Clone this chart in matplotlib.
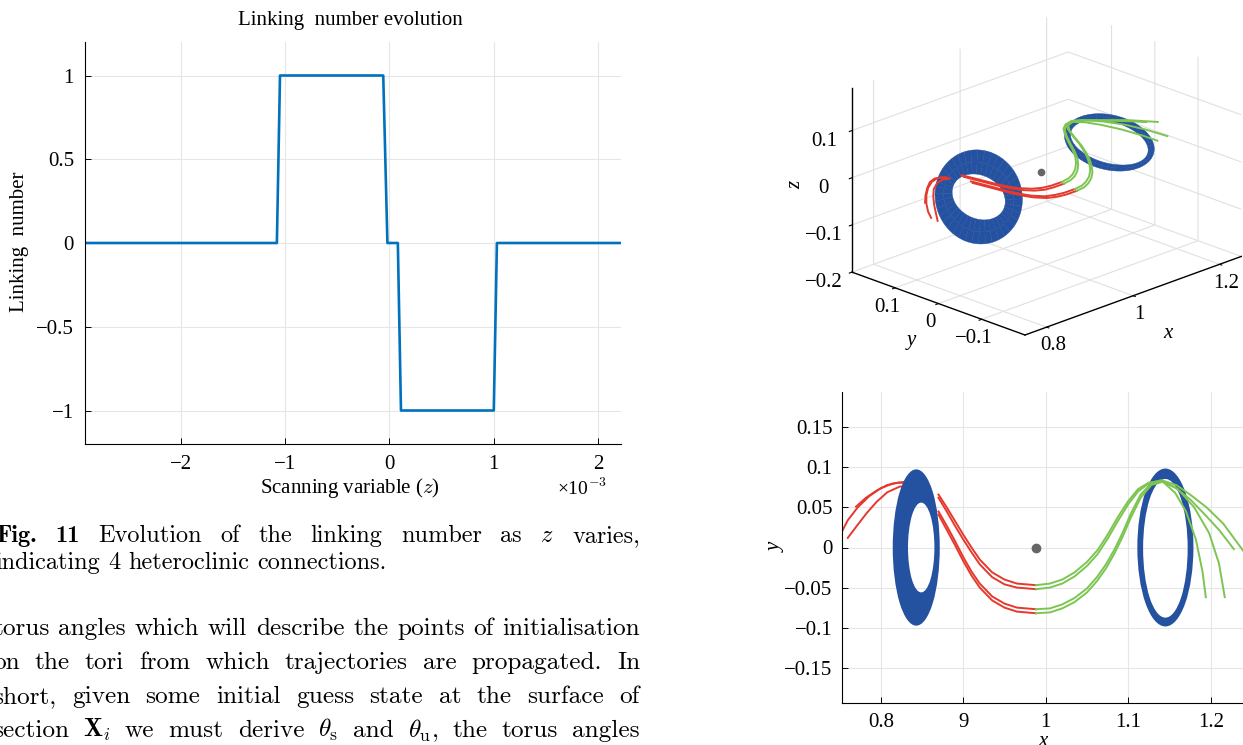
import numpy as np
import matplotlib
matplotlib.use("Agg")
import matplotlib.pyplot as plt
from matplotlib.path import Path
from matplotlib.patches import PathPatch
from matplotlib.transforms import Affine2D
from mpl_toolkits.mplot3d import proj3d

W, H = 1243, 745
plt.rcParams['font.family'] = ['Liberation Serif', 'DejaVu Serif']
plt.rcParams['mathtext.fontset'] = 'cm'

LINE_BLUE = '#0072BD'
TORUS = '#2451A0'
RED = '#E5392E'
GREEN = '#7CC551'
GRID = '#e6e6e6'

# ---- linking number vs scanning variable
scan_z = [-2.92e-3, -1.08e-3, -1.05e-3, -0.06e-3, -0.02e-3, 0.08e-3, 0.11e-3, 1.00e-3, 1.03e-3, 2.22e-3]
link_num = [0, 0, 1, 1, 0, 0, -1, -1, 0, 0]
scan_ticks = [-2e-3, -1e-3, 0, 1e-3, 2e-3]
scan_labels = ['−2', '−1', '0', '1', '2']
link_ticks = [-1, -0.5, 0, 0.5, 1]
link_labels = ['−1', '−0.5', '0', '0.5', '1']

# ---- tori (x-y view): outer ellipse and hole
ring_cx = [0.843, 1.145]
ring_cy = [0.0, 0.0]
ring_w = [0.057, 0.068]
ring_h = [0.195, 0.197]
hole_cx = [0.849, 1.145]
hole_cy = [0.0, -0.001]
hole_w = [0.032, 0.054]
hole_h = [0.112, 0.173]

# tori in 3d: centre z, semi axes (y, z) outer / inner, tilt dx/dz
ring_cz = [-0.005, 0.01]
ring_ay = [0.097, 0.098]
ring_az = [0.085, 0.040]
hole_ay = [0.060, 0.086]
hole_az = [0.040, 0.030]
ring_tilt = [0.33, 0.85]

moon = (0.9878, 0.0, 0.0)

# ---- unstable branches (red), left torus -> moon
red_x = [0.870, 0.880, 0.890, 0.900, 0.910, 0.920, 0.935, 0.950, 0.965, 0.988]
red_y1 = [0.066, 0.050, 0.033, 0.016, 0.000, -0.015, -0.031, -0.040, -0.045, -0.047]
red_y2 = [0.062, 0.045, 0.027, 0.010, -0.006, -0.021, -0.037, -0.046, -0.050, -0.052]
red_y3 = [0.045, 0.027, 0.008, -0.012, -0.030, -0.045, -0.061, -0.070, -0.075, -0.077]
red_y4 = [0.041, 0.022, 0.003, -0.017, -0.035, -0.050, -0.066, -0.075, -0.080, -0.082]
red_z1 = [0.010, 0.006, 0.002, -0.002, -0.005, -0.007, -0.008, -0.008, -0.007, -0.006]
red_z2 = [0.008, 0.004, 0.000, -0.004, -0.007, -0.009, -0.010, -0.010, -0.009, -0.008]
red_z3 = [0.004, 0.000, -0.004, -0.008, -0.011, -0.013, -0.014, -0.013, -0.012, -0.011]
red_z4 = [0.002, -0.002, -0.006, -0.010, -0.013, -0.015, -0.016, -0.015, -0.014, -0.013]

# red tails on the far side of the left torus
tail_x1 = [0.845, 0.830, 0.815, 0.800, 0.786, 0.772, 0.760, 0.753]
tail_y1 = [0.079, 0.082, 0.080, 0.074, 0.064, 0.050, 0.034, 0.020]
tail_z1 = [0.010, 0.012, 0.010, 0.004, -0.004, -0.012, -0.020, -0.026]
tail_x2 = [0.852, 0.838, 0.823, 0.808, 0.795, 0.783, 0.771, 0.760]
tail_y2 = [0.075, 0.077, 0.076, 0.069, 0.057, 0.043, 0.027, 0.012]
tail_z2 = [0.006, 0.008, 0.006, 0.000, -0.008, -0.016, -0.024, -0.032]
tail_x3 = [0.848, 0.835, 0.822, 0.808, 0.795, 0.782, 0.770]
tail_y3 = [0.077, 0.080, 0.081, 0.078, 0.071, 0.062, 0.051]
tail_z3 = [0.008, 0.012, 0.014, 0.012, 0.006, -0.002, -0.010]

# ---- stable branches (green), moon -> right torus
grn_x1 = [0.988, 1.005, 1.020, 1.035, 1.050, 1.063, 1.075, 1.088, 1.100, 1.112, 1.125, 1.140, 1.158, 1.175, 1.192, 1.210, 1.228]
grn_y1 = [-0.047, -0.045, -0.040, -0.031, -0.018, -0.003, 0.016, 0.039, 0.058, 0.073, 0.081, 0.083, 0.074, 0.060, 0.042, 0.022, -0.002]
grn_z1 = [-0.006, -0.005, -0.003, 0.000, 0.004, 0.009, 0.014, 0.019, 0.023, 0.026, 0.028, 0.029, 0.028, 0.027, 0.026, 0.026, 0.026]
grn_x2 = [0.988, 1.005, 1.020, 1.035, 1.050, 1.063, 1.075, 1.088, 1.100, 1.112, 1.125, 1.140, 1.158, 1.175, 1.195, 1.215, 1.245]
grn_y2 = [-0.052, -0.050, -0.045, -0.036, -0.023, -0.008, 0.011, 0.034, 0.054, 0.070, 0.080, 0.084, 0.078, 0.066, 0.050, 0.030, -0.012]
grn_z2 = [-0.008, -0.007, -0.005, -0.002, 0.002, 0.007, 0.012, 0.017, 0.021, 0.024, 0.026, 0.027, 0.026, 0.025, 0.024, 0.024, 0.024]
grn_x3 = [0.988, 1.005, 1.020, 1.035, 1.050, 1.062, 1.073, 1.083, 1.093, 1.103, 1.115, 1.128, 1.142, 1.160, 1.180, 1.198, 1.210, 1.217]
grn_y3 = [-0.077, -0.076, -0.071, -0.063, -0.051, -0.037, -0.021, -0.003, 0.018, 0.042, 0.066, 0.080, 0.083, 0.073, 0.050, 0.018, -0.020, -0.062]
grn_z3 = [-0.011, -0.010, -0.008, -0.005, -0.001, 0.004, 0.009, 0.014, 0.019, 0.023, 0.026, 0.028, 0.029, 0.028, 0.026, 0.024, 0.022, 0.020]
grn_x4 = [0.988, 1.005, 1.020, 1.035, 1.050, 1.062, 1.073, 1.083, 1.093, 1.103, 1.115, 1.128, 1.142, 1.157, 1.170, 1.182, 1.190, 1.194]
grn_y4 = [-0.082, -0.081, -0.076, -0.068, -0.056, -0.042, -0.026, -0.008, 0.013, 0.037, 0.062, 0.078, 0.082, 0.068, 0.045, 0.010, -0.030, -0.062]
grn_z4 = [-0.013, -0.012, -0.010, -0.007, -0.003, 0.002, 0.007, 0.012, 0.017, 0.021, 0.024, 0.026, 0.027, 0.026, 0.024, 0.022, 0.020, 0.018]

red_curves = [(red_x, red_y1, red_z1), (red_x, red_y2, red_z2), (red_x, red_y3, red_z3), (red_x, red_y4, red_z4),
              (tail_x1, tail_y1, tail_z1), (tail_x2, tail_y2, tail_z2), (tail_x3, tail_y3, tail_z3)]
grn_curves = [(grn_x1, grn_y1, grn_z1), (grn_x2, grn_y2, grn_z2), (grn_x3, grn_y3, grn_z3), (grn_x4, grn_y4, grn_z4)]

xy_xticks = [0.8, 0.9, 1.0, 1.1, 1.2]
xy_xlabels = ['0.8', '9', '1', '1.1', '1.2']
xy_yticks = [-0.15, -0.1, -0.05, 0, 0.05, 0.1, 0.15]
xy_ylabels = ['−0.15', '−0.1', '−0.05', '0', '0.05', '0.1', '0.15']

# ---- page text
caption = ["Fig. 11 Evolution of the linking number as $z$ varies,",
           "indicating 4 heteroclinic connections."]
body = ["torus angles which will describe the points of initialisation",
        "on the tori from which trajectories are propagated. In",
        "short, given some initial guess state at the surface of",
        r"section $\mathbf{X}_i$ we must derive $\theta_\mathrm{s}$ and $\theta_\mathrm{u}$, the torus angles"]


def px(x, y):
    return x / W, 1 - y / H


fig = plt.figure(figsize=(W / 100, H / 100), dpi=100)

# ================= left: linking number =================
ax = fig.add_axes([85 / W, 1 - 444 / H, 536 / W, 402 / H])
ax.plot(scan_z, link_num, color=LINE_BLUE, lw=1.9)
ax.set_xlim(-2.92e-3, 2.22e-3)
ax.set_ylim(-1.2, 1.2)
ax.set_xticks(scan_ticks, scan_labels)
ax.set_yticks(link_ticks, link_labels)
ax.grid(True, color=GRID, lw=0.8)
ax.set_axisbelow(True)
for s in ['top', 'right']:
    ax.spines[s].set_visible(False)
ax.tick_params(direction='in', length=4, width=0.7, labelsize=15, pad=8)
fig.text(*px(350, 21), 'Linking  number evolution', fontsize=15, ha='center', va='center')
fig.text(*px(350, 488), 'Scanning variable ($z$)', fontsize=15, ha='center', va='center')
fig.text(*px(557, 488), r'×10$^{-3}$', fontsize=14, ha='left', va='center')
fig.text(*px(20, 242), 'Linking  number', fontsize=15, ha='center', va='center', rotation=90)

# ================= right bottom: x-y view =================
ax2 = fig.add_axes([842 / W, 1 - 703 / H, 410 / W, 311 / H])
for c in red_curves:
    ax2.plot(c[0], c[1], color=RED, lw=1.4, zorder=2)
for i in range(len(ring_cx)):
    outer = Path.unit_circle().transformed(
        Affine2D().scale(ring_w[i] / 2, ring_h[i] / 2).translate(ring_cx[i], ring_cy[i]))
    inner = Path.unit_circle().transformed(
        Affine2D().scale(-hole_w[i] / 2, hole_h[i] / 2).translate(hole_cx[i], hole_cy[i]))
    ax2.add_patch(PathPatch(Path.make_compound_path(outer, inner), fc=TORUS, ec='none', zorder=3))
for c in grn_curves:
    ax2.plot(c[0], c[1], color=GREEN, lw=1.4, zorder=4)
ax2.plot(moon[0], moon[1], 'o', color='#666666', ms=6, zorder=5)
ax2.set_xlim(0.753, 1.25)
ax2.set_ylim(-0.194, 0.194)
ax2.set_xticks(xy_xticks, xy_xlabels)
ax2.set_yticks(xy_yticks, xy_ylabels)
ax2.grid(True, color=GRID, lw=0.8)
ax2.set_axisbelow(True)
ax2.patch.set_alpha(0)
for s in ['top', 'right']:
    ax2.spines[s].set_visible(False)
ax2.tick_params(direction='in', length=4, width=0.7, labelsize=15, pad=7)
fig.text(*px(1043, 741), 'x', fontsize=15, style='italic', ha='center', va='center')
fig.text(*px(776, 547), 'y', fontsize=15, style='italic', ha='center', va='center', rotation=90)

# ================= right top: 3d view =================
S0, c0 = 500.0, np.array([1050.0, H - 190.0])
ax3 = fig.add_axes([(c0[0] - S0 / 2) / W, (c0[1] - S0 / 2) / H, S0 / W, S0 / H],
                   projection='3d', computed_zorder=False)
ax3.set_proj_type('ortho')
ax3.view_init(elev=21.3, azim=-135)
ax3.set_xlim(0.75, 1.25)
ax3.set_ylim(-0.2, 0.2)
ax3.set_zlim(-0.2, 0.19)
ax3.set_box_aspect((0.5 * 622, 0.4 * 622, 0.39 * 515))
ax3.patch.set_alpha(0)

t = np.linspace(0, 2 * np.pi, 120)
s = np.array([0.0, 0.5, 1.0])
T, Sg = np.meshgrid(t, s)
for i in range(len(ring_cx)):
    ay = hole_ay[i] + (ring_ay[i] - hole_ay[i]) * Sg
    az = hole_az[i] + (ring_az[i] - hole_az[i]) * Sg
    Y = ring_cy[i] + ay * np.cos(T)
    Z = ring_cz[i] + az * np.sin(T)
    X = ring_cx[i] + ring_tilt[i] * (Z - ring_cz[i])
    ax3.plot_surface(X, Y, Z, color=TORUS, shade=False, linewidth=0.3, edgecolor=TORUS, antialiased=True)
for c in red_curves:
    ax3.plot(c[0], c[1], c[2], color=RED, lw=1.4)
for c in grn_curves:
    ax3.plot(c[0], c[1], c[2], color=GREEN, lw=1.4)
ax3.plot([moon[0]], [moon[1]], [moon[2]], 'o', color='#666666', ms=4.5)

ax3.set_xticks([0.8, 1.0, 1.2], ['0.8', '1', '1.2'])
ax3.set_yticks([-0.1, 0, 0.1], ['−0.1', '0', '0.1'])
ax3.set_zticks([-0.2, -0.1, 0, 0.1], ['−0.2', '−0.1', '0', '0.1'])
ax3.tick_params(labelsize=15)
ax3.tick_params(axis='x', pad=-2)
ax3.tick_params(axis='y', pad=-2)
for a in (ax3.xaxis, ax3.yaxis, ax3.zaxis):
    a.set_pane_color((1, 1, 1, 0))
    a.pane.set_edgecolor((1, 1, 1, 0))
    a._axinfo['grid'].update(color='#e0e0e0', linewidth=0.8)
    a._axinfo['tick']['inward_factor'] = 0.15
    a._axinfo['tick']['outward_factor'] = 0.0
    a.line.set_color('black')
    a.line.set_linewidth(1.0)

# place the 3d box so that two of its floor corners land where they are in the page
fig.canvas.draw()
M = ax3.get_proj()


def disp(p):
    xs, ys, _ = proj3d.proj_transform(np.array([p[0]]), np.array([p[1]]), np.array([p[2]]), M)
    return ax3.transData.transform(np.column_stack([xs, ys]))[0]


pA = disp((0.75, -0.2, -0.2))
pB = disp((0.75, 0.2, -0.2))
tA = np.array([1025.0, H - 335.0])
tB = np.array([852.0, H - 272.0])
k = np.linalg.norm(tA - tB) / np.linalg.norm(pA - pB)
S1 = S0 * k
c1 = tA - S1 * (pA - c0) / S0
ax3.set_position([(c1[0] - S1 / 2) / W, (c1[1] - S1 / 2) / H, S1 / W, S1 / H])

fig.text(*px(796, 185), 'z', fontsize=15, style='italic', ha='center', va='center', rotation=90)
fig.text(*px(911, 341), 'y', fontsize=15, style='italic', ha='center', va='center')
fig.text(*px(1168, 334), 'x', fontsize=15, style='italic', ha='center', va='center')

# ================= caption and body text (justified) =================
renderer = fig.canvas.get_renderer()


def put_line(text, x0, x1, ybase, size, bold_words=0, justify=True):
    words = text.split(' ')
    arts = []
    for j, w in enumerate(words):
        fam = 'cmb10' if j < bold_words else 'cmr10'
        arts.append(fig.text(0, 1 - ybase / H, w, fontsize=size, family=fam, va='baseline', ha='left'))
    widths = [a.get_window_extent(renderer).width for a in arts]
    if justify:
        gap = (x1 - x0 - sum(widths)) / (len(arts) - 1)
    else:
        gap = size * 100 / 72 * 0.333
    x = x0
    for a, w in zip(arts, widths):
        a.set_x(x / W)
        x += w + gap


put_line(caption[0], -4, 640, 542, 17.5, bold_words=2)
put_line(caption[1], -5, 640, 569, 17.5, justify=False)
for j, line in enumerate(body):
    put_line(line, -7, 640, 635 + 34 * j, 18.2)

fig.savefig('out.png', dpi=100)
